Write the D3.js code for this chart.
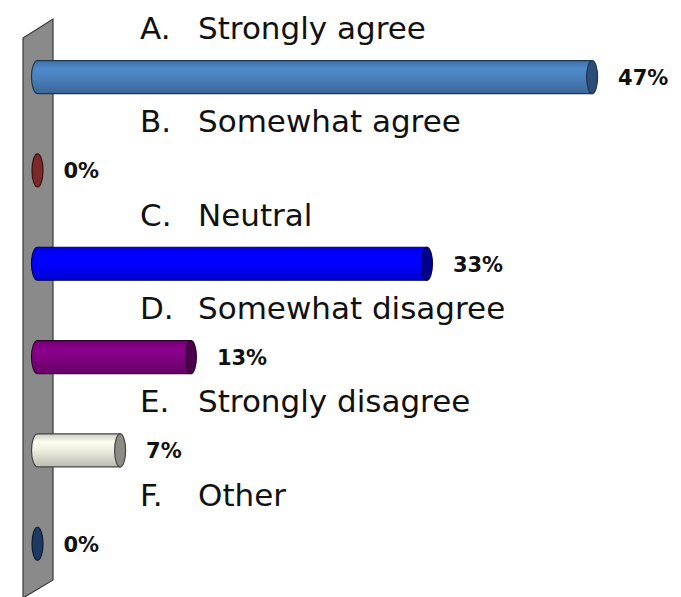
<!DOCTYPE html>
<html>
<head>
<meta charset="utf-8">
<script src="https://cdn.jsdelivr.net/npm/d3@7/dist/d3.min.js"></script>
<style>
html,body{margin:0;padding:0;background:#fff;}
svg{display:block;}
</style>
</head>
<body>
<script>
const letters = ["A.", "B.", "C.", "D.", "E.", "F."];
const categories = ["Strongly agree", "Somewhat agree", "Neutral", "Somewhat disagree", "Strongly disagree", "Other"];
const values = [47, 0, 33, 13, 7, 0];
const valueLabels = ["47%", "0%", "33%", "13%", "7%", "0%"];
const bodyColors = ["#4a7ebb", "#7b2a2a", "#0000ff", "#800080", "#e8e8dc", "#1f3a60"];
const capColors = ["#2c4d78", "#5a1c1c", "#00008c", "#4a004a", "#8c8c84", "#14284a"];
const edgeColors = ["#1e3553", "#3a1010", "#00004a", "#2e002e", "#444444", "#0b1a30"];

const W = 681, H = 597;
const FONT = "'DejaVu Sans',sans-serif";

const svg = d3.select("body").append("svg").attr("width", W).attr("height", H);
const defs = svg.append("defs");

const x = d3.scaleLinear().domain([0, 50]).range([37.5, 627.5]);
const y = d3.scaleBand().domain(d3.range(categories.length)).range([8, 568]).paddingInner(0).paddingOuter(0);
const barH = 33, rx = 6;

// gradients
bodyColors.forEach((c, i) => {
  const g = defs.append("linearGradient").attr("id", "g" + i).attr("x1", 0).attr("y1", 0).attr("x2", 0).attr("y2", 1);
  const base = d3.color(c);
  g.append("stop").attr("offset", "0%").attr("stop-color", d3.color(c).darker(0.35));
  g.append("stop").attr("offset", "25%").attr("stop-color", d3.color(c).brighter(0.25));
  g.append("stop").attr("offset", "55%").attr("stop-color", base);
  g.append("stop").attr("offset", "100%").attr("stop-color", d3.color(c).darker(0.6));
});

// wall
const wall = [[23, 38], [53, 19], [53, 580], [23, 598]];
svg.append("path")
  .attr("d", d3.line()(wall) + "Z")
  .attr("fill", "#8a8a8a")
  .attr("stroke", "#3a3a3a")
  .attr("stroke-width", 1.2);

// category labels
const rowCenter = i => y(i) + y.bandwidth() * 0.74;
const labelG = svg.append("g").attr("font-family", FONT).attr("font-size", 31).attr("fill", "#111");
labelG.selectAll("text.l").data(letters).join("text")
  .attr("x", 140).attr("y", (d, i) => rowCenter(i) - 38)
  .text(d => d);
labelG.selectAll("text.c").data(categories).join("text")
  .attr("x", 198).attr("y", (d, i) => rowCenter(i) - 38)
  .text(d => d);

// bars (cylinders)
const bars = svg.append("g");
values.forEach((v, i) => {
  const cy = rowCenter(i);
  const x0 = x(0), x1 = x(v);
  const g = bars.append("g");
  if (v > 0) {
    const top = cy - barH / 2, bot = cy + barH / 2;
    const path = `M${x1},${top} L${x0},${top} A${rx},${barH/2} 0 0 0 ${x0},${bot} L${x1},${bot} Z`;
    g.append("path").attr("d", path)
      .attr("fill", `url(#g${i})`)
      .attr("stroke", edgeColors[i]).attr("stroke-width", 1.2);
  }
  g.append("ellipse")
    .attr("cx", x1).attr("cy", cy).attr("rx", rx - 0.5).attr("ry", barH / 2)
    .attr("fill", v > 0 ? capColors[i] : bodyColors[i])
    .attr("stroke", edgeColors[i]).attr("stroke-width", 1.2);
});

// value labels
svg.append("g").attr("font-family", FONT).attr("font-size", 21).attr("font-weight", "bold").attr("fill", "#111")
  .selectAll("text").data(valueLabels).join("text")
  .attr("x", (d, i) => x(values[i]) + 26)
  .attr("y", (d, i) => rowCenter(i) + 8)
  .text(d => d);
</script>
</body>
</html>
